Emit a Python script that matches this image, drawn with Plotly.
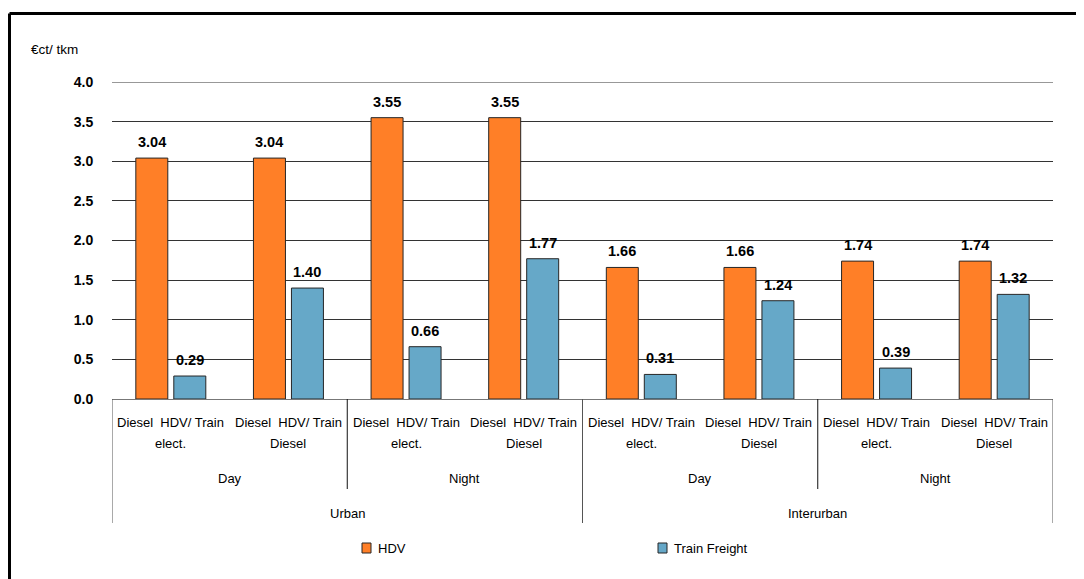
import plotly.graph_objects as go

# ---- data ----
categories_l1_line1 = ["Diesel\u00a0 HDV/ Train"] * 8
categories_l1_line2 = ["elect.", "Diesel", "elect.", "Diesel", "elect.", "Diesel", "elect.", "Diesel"]
categories_l2 = ["Day", "Night", "Day", "Night"]
categories_l3 = ["Urban", "Interurban"]
hdv = [3.04, 3.04, 3.55, 3.55, 1.66, 1.66, 1.74, 1.74]
train = [0.29, 1.40, 0.66, 1.77, 0.31, 1.24, 0.39, 1.32]
series_names = ["HDV", "Train Freight"]
y_unit = "€ct/ tkm"
y_ticks = [0, 0.5, 1, 1.5, 2, 2.5, 3, 3.5, 4]

FONT = "Liberation Sans, Arial, sans-serif"
ORANGE = "#FF7F27"
BLUE = "#66A8C8"
EDGE = "#262626"
GRID = "#333"
BARGAP = 0.354
x = list(range(len(hdv)))

# plot area geometry (page pixels); the page body has an 8px margin
PL, PR, PT, PB = 112, 1053, 82, 399
PW, PH = PR - PL, PB - PT
BODY = 8


def px(xp):
    return (xp - PL) / PW


def py(yp):
    return (PB - yp) / PH


fig = go.Figure()
fig.add_trace(go.Bar(x=x, y=hdv, name=series_names[0], showlegend=False,
                     marker=dict(color=ORANGE, line=dict(color=EDGE, width=1))))
fig.add_trace(go.Bar(x=x, y=train, name=series_names[1], showlegend=False,
                     marker=dict(color=BLUE, line=dict(color=EDGE, width=1))))

annotations = []
off = (1 - BARGAP) / 4
for i, (a, b) in enumerate(zip(hdv, train)):
    for xv, v in ((i - off, a), (i + off, b)):
        annotations.append(dict(x=xv, y=v, xref="x", yref="y", text=f"<b>{v:.2f}</b>", showarrow=False,
                                yanchor="bottom", yshift=6, font=dict(family=FONT, size=14.5, color="#000")))
    annotations.append(dict(x=i, y=0, xref="x", yref="paper", text=categories_l1_line1[i], showarrow=False,
                            yanchor="middle", yshift=-23, font=dict(family=FONT, size=13, color="#000")))
    annotations.append(dict(x=i, y=0, xref="x", yref="paper", text=categories_l1_line2[i], showarrow=False,
                            yanchor="middle", yshift=-44, font=dict(family=FONT, size=13, color="#000")))
for j, lab in enumerate(categories_l2):
    annotations.append(dict(x=2 * j + 0.5, y=0, xref="x", yref="paper", text=lab, showarrow=False,
                            yanchor="middle", yshift=-79, font=dict(family=FONT, size=13, color="#000")))
for j, lab in enumerate(categories_l3):
    annotations.append(dict(x=4 * j + 1.5, y=0, xref="x", yref="paper", text=lab, showarrow=False,
                            yanchor="middle", yshift=-114, font=dict(family=FONT, size=13, color="#000")))
annotations.append(dict(x=px(29), y=1.0, xref="paper", yref="paper", text=y_unit, showarrow=False,
                        xanchor="left", yanchor="middle", yshift=33, font=dict(family=FONT, size=13.5, color="#000")))

shapes = []
# top gridline (plotly drops gridlines on the range edge)
shapes.append(dict(type="line", xref="paper", yref="y", x0=0, x1=1, y0=y_ticks[-1], y1=y_ticks[-1],
                   line=dict(color=GRID, width=1), layer="below"))
for k in range(0, 9, 2):
    depth = 124 if k % 4 == 0 else 90
    shapes.append(dict(type="line", xref="x", yref="paper", x0=k - 0.5, x1=k - 0.5, y0=0, y1=-depth / PH,
                       line=dict(color="#555" if k % 4 == 0 else "#111", width=1)))
# outer frame (left and top)
fx, fy = px(9.5), py(13.5)
shapes.append(dict(type="line", xref="paper", yref="paper", x0=fx, x1=fx, y0=fy, y1=-1.0,
                   line=dict(color="#000", width=3)))
shapes.append(dict(type="line", xref="paper", yref="paper", x0=fx, x1=1.2, y0=fy, y1=fy,
                   line=dict(color="#000", width=3)))

# manual legend
legend_pos = [362, 658]
legend_colors = [ORANGE, BLUE]
for name, lx, col in zip(series_names, legend_pos, legend_colors):
    shapes.append(dict(type="rect", xref="paper", yref="paper", x0=px(lx), x1=px(lx + 9),
                       y0=py(553), y1=py(543), fillcolor=col, line=dict(color=EDGE, width=1)))
    annotations.append(dict(x=px(lx + 14), y=py(548), xref="paper", yref="paper", text=name,
                            showarrow=False, xanchor="left", yanchor="middle",
                            font=dict(family=FONT, size=13, color="#000")))

fig.update_layout(
    width=1084, height=579,
    margin=dict(l=PL - BODY, r=1084 - (PR - BODY), t=PT - BODY, b=579 - (PB - BODY)),
    paper_bgcolor="white", plot_bgcolor="white",
    barmode="group", bargap=BARGAP, bargroupgap=0.158,
    font=dict(family=FONT, size=13, color="#000"),
    xaxis=dict(range=[-0.5, 7.5], showticklabels=False, showgrid=False, zeroline=False,
               showline=True, linecolor="#777", linewidth=1, ticks=""),
    yaxis=dict(range=[0, 4], tickvals=y_ticks, tickformat=".1f",
               showgrid=True, gridcolor=GRID, gridwidth=1,
               zeroline=False, showline=False, ticks="outside", ticklen=15, tickcolor="rgba(0,0,0,0)",
               tickfont=dict(family=FONT, size=14, color="#000", weight="bold")),
    showlegend=False,
    annotations=annotations, shapes=shapes,
)

fig.write_html("out.html")
